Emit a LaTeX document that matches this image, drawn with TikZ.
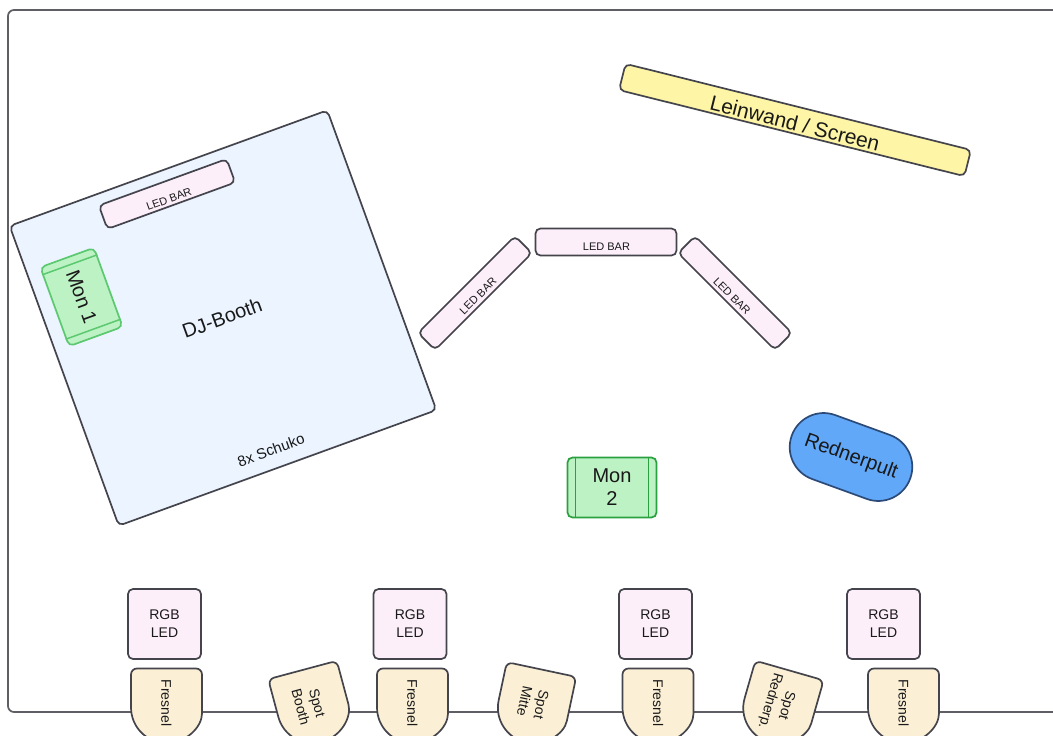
\documentclass[tikz,border=0pt]{standalone}
\usepackage{fontspec}
\setmainfont{Liberation Sans}
\usetikzlibrary{calc}
\definecolor{framegrey}{HTML}{5E5E64}
\definecolor{edgegrey}{HTML}{44444C}
\definecolor{boothblue}{HTML}{EBF4FF}
\definecolor{barpink}{HTML}{FCEFFA}
\definecolor{mongreen}{HTML}{BDF2C4}
\definecolor{monedge}{HTML}{2AA040}
\definecolor{monlight}{HTML}{5CC870}
\definecolor{screenyellow}{HTML}{FFF5A6}
\definecolor{lampcream}{HTML}{FBF0D6}
\definecolor{pultblue}{HTML}{62A8F8}
\definecolor{pultedge}{HTML}{2C4A78}
\tikzset{
	base/.style={draw=edgegrey,line width=1.7pt,inner sep=0pt,rectangle,rounded corners=5pt},
	fs/.style 2 args={font=\fontsize{#1}{#2}\selectfont,align=center,text=black!90,inner sep=0pt},
	barbox/.style={base,fill=barpink},
	monbox/.style={base,fill=mongreen},
	lampbody/.pic={
		\draw[edgegrey,line width=1.7pt,fill=lampcream,rounded corners=6pt]
			(-35.5,39) -- (-35.5,0) -- (35.5,0) -- (35.5,39) [sharp corners]
			.. controls (35.5,58.6) and (19.6,74.5) .. (0,74.5)
			.. controls (-19.6,74.5) and (-35.5,58.6) .. (-35.5,39) -- cycle;
	}
}
\begin{document}
\begin{tikzpicture}[x=1pt,y=-1pt]
	\useasboundingbox (0,0) rectangle (1053,736);
	\clip (0,0) rectangle (1053,736);
	% room
	\draw[framegrey,line width=1.7pt,rounded corners=6pt] (1060,10) -- (8,10) -- (8,712) -- (1060,712);
	% booth
	\node[base,fill=boothblue,minimum width=338pt,minimum height=319pt,rotate=20] (booth) at (223,318) {};
	\node[fs={20}{24},rotate=20] (boothtext) at (222,318) {DJ-Booth};
	\node[fs={15}{18},rotate=20] (schuko) at (271,450) {8x Schuko};
	% screen and desk
	\node[base,fill=screenyellow,minimum width=356pt,minimum height=27pt,rotate=-14] (screen) at (795,120) {};
	\node[fs={21}{24},rotate=-14] (screentext) at (795,123) {Leinwand / Screen};
	\node[base,draw=pultedge,fill=pultblue,minimum width=126pt,minimum height=68pt,rounded corners=33.9pt,rotate=-20,fs={20}{24}] (pult) at (851,457) {Rednerpult};
	% led bars
	\foreach \n/\x/\y/\w/\h/\a/\tx/\ty in {booth/167/194/136/25/20/169/199, left/475/293/137/24/45/478/296, mid/606/242/141/27/0/606.5/247, right/735/293/137/24/-45/732/296}
		{
		   \node[barbox,minimum width=\w pt,minimum height=\h pt,rotate=\a] (bar\n) at (\x,\y) {};
		   \node[fs={11}{13},rotate=\a] (bartext\n) at (\tx,\ty) {LED BAR};
		};
	% monitors
	\node[monbox,draw=monlight,minimum width=84pt,minimum height=57pt,rotate=-70,fs={20}{23}] (mon1) at (81.5,297) {Mon 1};
	\node[monbox,draw=monedge,minimum width=89pt,minimum height=60pt,fs={20}{23}] (mon2) at (612,487.5) {Mon\\2};
	\foreach \m/\c in {mon1/monlight, mon2/monedge}
		{
		   \draw[\c,line width=1.5pt] ($(\m.north west)!.1!(\m.north east)$) -- ($(\m.south west)!.1!(\m.south east)$);
		   \draw[\c,line width=1.5pt] ($(\m.north east)!.1!(\m.north west)$) -- ($(\m.south east)!.1!(\m.south west)$);
		};
	% rgb boxes
	\foreach \n/\x in {a/164.5, b/410, c/655.5, d/883.5}
		{
		   \node[base,fill=barpink,minimum width=73pt,minimum height=70pt,fs={14}{18}] (rgb\n) at (\x,624) {RGB\\LED};
		};
	% lamps
	\foreach \n/\x/\y/\a/\tx/\ty/\t in {fa/166.5/668.5/0/166.5/703/Fresnel, sb/302.5/670/15/309/705/{Spot\\Booth}, fb/412.5/668.5/0/412.5/703/Fresnel, sm/541.5/669.5/-12/533/703/{Spot\\Mitte}, fc/658/668.5/0/658/703/Fresnel, sr/789.5/670.5/-16/778/703/{Spot\\Rednerp.}, fd/903.5/668.5/0/903.5/703/Fresnel}
		{
		   \pic[rotate=\a] (lamp\n) at (\x,\y) {lampbody};
		   \node[fs={14}{17},rotate=\a-90] (lamptext\n) at (\tx,\ty) {\t};
		};
\end{tikzpicture}
\end{document}
